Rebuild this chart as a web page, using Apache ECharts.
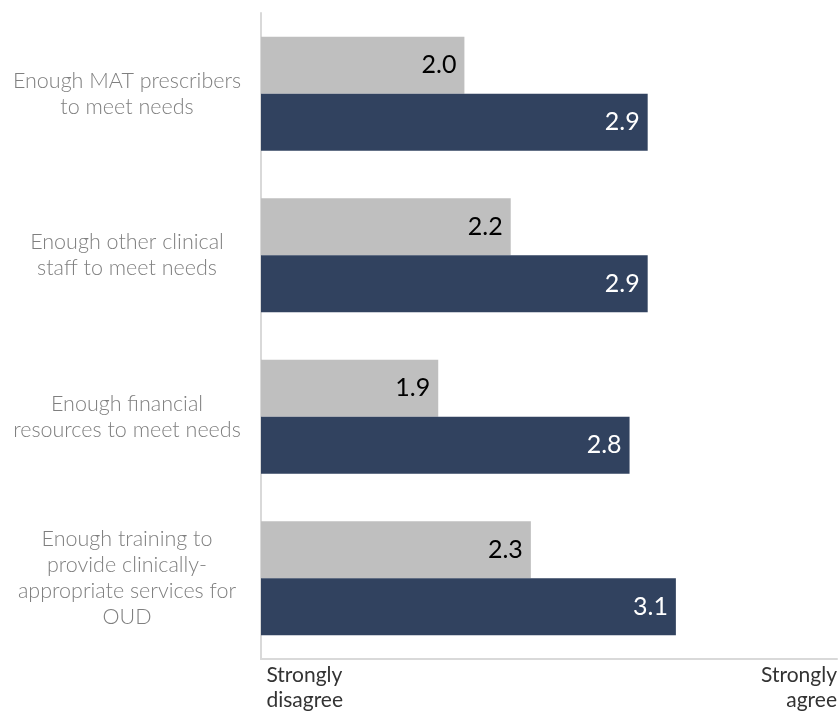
<!DOCTYPE html>
<html><head><meta charset="utf-8">
<script src="https://cdn.jsdelivr.net/npm/echarts@6/dist/echarts.min.js"></script>
<style>html,body{margin:0;padding:0;background:#fff}#c{width:840px;height:713px}</style>
</head><body><div id="c"></div>
<script>
const categories = [
  'Enough MAT prescribers\nto meet needs',
  'Enough other clinical\nstaff to meet needs',
  'Enough financial\nresources to meet needs',
  'Enough training to\nprovide clinically-\nappropriate services for\nOUD'
];
const seriesGray = [2.01, 2.24, 1.88, 2.34];
const seriesNavy = [2.92, 2.92, 2.83, 3.06];
const axisMin = 1;
const axisMax = 3.86;

const chart = echarts.init(document.getElementById('c'));
const labelBase = {show: true, position: 'insideRight', distance: 8, fontFamily: 'Lato', fontSize: 25,
  formatter: p => p.value.toFixed(1)};
chart.setOption({
  animation: false,
  grid: {left: 261, right: 0, top: 13, bottom: 50},
  xAxis: {
    type: 'value', min: axisMin, max: axisMax, interval: 1,
    splitLine: {show: false},
    axisLine: {show: true, lineStyle: {color: '#d9d9d9', width: 2}},
    axisTick: {show: false},
    axisLabel: {
      show: true, showMinLabel: true, showMaxLabel: true,
      alignMinLabel: 'left', alignMaxLabel: 'right',
      margin: 4, fontFamily: 'Lato', fontSize: 21, color: '#333', lineHeight: 25,
      formatter: v => v === axisMin ? ' Strongly\n disagree' : (v === axisMax ? 'Strongly\nagree' : '')
    }
  },
  yAxis: {
    type: 'category', data: categories, inverse: true,
    axisLine: {show: true, lineStyle: {color: '#d9d9d9', width: 2}},
    axisTick: {show: false},
    axisLabel: {margin: 134, align: 'center', fontFamily: 'Lato', fontWeight: 300, fontSize: 21.5,
      lineHeight: 26, color: '#7f7f7f'}
  },
  series: [
    {type: 'bar', data: seriesGray, barGap: '0%', barCategoryGap: '29.5%',
      itemStyle: {color: '#bfbfbf'}, label: Object.assign({color: '#000'}, labelBase)},
    {type: 'bar', data: seriesNavy,
      itemStyle: {color: '#31425f'}, label: Object.assign({color: '#fff'}, labelBase)}
  ]
});
</script></body></html>
